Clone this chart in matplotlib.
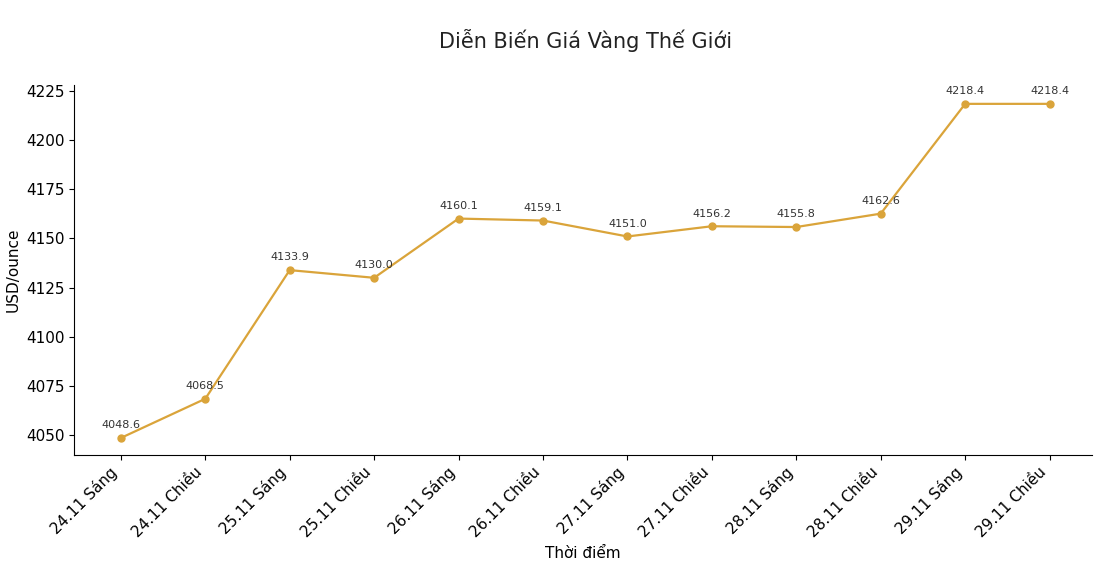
import matplotlib.pyplot as plt

labels = ["24.11 Sáng", "24.11 Chiều", "25.11 Sáng", "25.11 Chiều", "26.11 Sáng", "26.11 Chiều",
          "27.11 Sáng", "27.11 Chiều", "28.11 Sáng", "28.11 Chiều", "29.11 Sáng", "29.11 Chiều"]
prices = [4048.6, 4068.5, 4133.9, 4130.0, 4160.1, 4159.1, 4151.0, 4156.2, 4155.8, 4162.6, 4218.4, 4218.4]

fig = plt.figure(figsize=(10.94, 5.78), dpi=100)
ax = fig.add_axes([0.068, 0.213, 0.93, 0.64])
x = range(len(labels))
ax.plot(x, prices, color="#DAA43A", marker="o", markersize=5, linewidth=1.6)
for i, p in zip(x, prices):
    ax.annotate(f"{p:.1f}", (i, p), textcoords="offset points", xytext=(0, 7),
                ha="center", fontsize=8, color="#333333")

ax.set_xlim(-0.55, 11.5)
ax.set_ylim(4040, 4228)
ax.set_yticks([4050, 4075, 4100, 4125, 4150, 4175, 4200, 4225])
ax.set_xticks(list(x))
ax.set_xticklabels(labels, rotation=45, ha="right", fontsize=11)
ax.tick_params(axis="y", labelsize=11)
ax.spines["top"].set_visible(False)
ax.spines["right"].set_visible(False)
ax.set_xlabel("Thời điểm", fontsize=11)
ax.set_ylabel("USD/ounce", fontsize=11)
fig.suptitle("Diễn Biến Giá Vàng Thế Giới", fontsize=15, y=0.95, x=0.535, color="#222222")

fig.savefig("out.png", dpi=100)
